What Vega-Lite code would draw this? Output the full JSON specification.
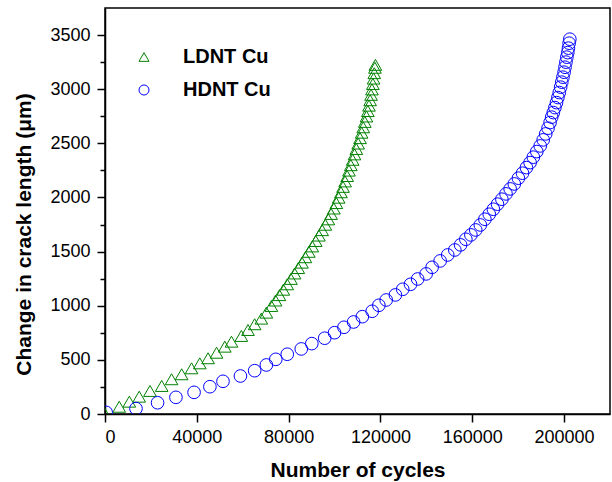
{
  "$schema": "https://vega.github.io/schema/vega-lite/v6.json",
  "width": 505,
  "height": 406,
  "autosize": {"type": "none"},
  "padding": {"left": 105, "top": 8, "right": 2, "bottom": 68},
  "background": "white",
  "config": {
    "view": {"stroke": "black", "strokeWidth": 1.5},
    "font": "Liberation Sans",
    "axis": {
      "labelFont": "Liberation Sans",
      "titleFont": "Liberation Sans",
      "labelFontSize": 18,
      "titleFontSize": 21,
      "titleFontWeight": "bold",
      "labelColor": "black",
      "titleColor": "black",
      "domainColor": "black",
      "tickColor": "black",
      "domainWidth": 1.5,
      "tickWidth": 1.5,
      "grid": false
    }
  },
  "data": {
    "values": [
      {"series": "LDNT Cu", "cycles": 0, "crack": 0},
      {"series": "LDNT Cu", "cycles": 6200, "crack": 67},
      {"series": "LDNT Cu", "cycles": 10600, "crack": 114},
      {"series": "LDNT Cu", "cycles": 14900, "crack": 160},
      {"series": "LDNT Cu", "cycles": 19600, "crack": 213},
      {"series": "LDNT Cu", "cycles": 24700, "crack": 259},
      {"series": "LDNT Cu", "cycles": 29000, "crack": 321},
      {"series": "LDNT Cu", "cycles": 33400, "crack": 367},
      {"series": "LDNT Cu", "cycles": 37700, "crack": 422},
      {"series": "LDNT Cu", "cycles": 41300, "crack": 468},
      {"series": "LDNT Cu", "cycles": 44900, "crack": 515},
      {"series": "LDNT Cu", "cycles": 48600, "crack": 566},
      {"series": "LDNT Cu", "cycles": 52200, "crack": 622},
      {"series": "LDNT Cu", "cycles": 55100, "crack": 668},
      {"series": "LDNT Cu", "cycles": 59400, "crack": 721},
      {"series": "LDNT Cu", "cycles": 62300, "crack": 776},
      {"series": "LDNT Cu", "cycles": 65200, "crack": 829},
      {"series": "LDNT Cu", "cycles": 68100, "crack": 881},
      {"series": "LDNT Cu", "cycles": 70300, "crack": 936},
      {"series": "LDNT Cu", "cycles": 72500, "crack": 998},
      {"series": "LDNT Cu", "cycles": 74300, "crack": 1048},
      {"series": "LDNT Cu", "cycles": 76000, "crack": 1098},
      {"series": "LDNT Cu", "cycles": 77700, "crack": 1148},
      {"series": "LDNT Cu", "cycles": 79400, "crack": 1198},
      {"series": "LDNT Cu", "cycles": 81000, "crack": 1248},
      {"series": "LDNT Cu", "cycles": 82600, "crack": 1298},
      {"series": "LDNT Cu", "cycles": 84200, "crack": 1348},
      {"series": "LDNT Cu", "cycles": 85800, "crack": 1398},
      {"series": "LDNT Cu", "cycles": 87300, "crack": 1448},
      {"series": "LDNT Cu", "cycles": 88800, "crack": 1498},
      {"series": "LDNT Cu", "cycles": 90300, "crack": 1548},
      {"series": "LDNT Cu", "cycles": 91800, "crack": 1598},
      {"series": "LDNT Cu", "cycles": 93200, "crack": 1648},
      {"series": "LDNT Cu", "cycles": 94600, "crack": 1698},
      {"series": "LDNT Cu", "cycles": 96000, "crack": 1748},
      {"series": "LDNT Cu", "cycles": 97300, "crack": 1798},
      {"series": "LDNT Cu", "cycles": 98500, "crack": 1848},
      {"series": "LDNT Cu", "cycles": 99700, "crack": 1898},
      {"series": "LDNT Cu", "cycles": 100800, "crack": 1948},
      {"series": "LDNT Cu", "cycles": 101800, "crack": 1998},
      {"series": "LDNT Cu", "cycles": 102800, "crack": 2048},
      {"series": "LDNT Cu", "cycles": 103700, "crack": 2098},
      {"series": "LDNT Cu", "cycles": 104600, "crack": 2148},
      {"series": "LDNT Cu", "cycles": 105500, "crack": 2198},
      {"series": "LDNT Cu", "cycles": 106300, "crack": 2248},
      {"series": "LDNT Cu", "cycles": 107100, "crack": 2298},
      {"series": "LDNT Cu", "cycles": 107900, "crack": 2348},
      {"series": "LDNT Cu", "cycles": 108700, "crack": 2398},
      {"series": "LDNT Cu", "cycles": 109500, "crack": 2448},
      {"series": "LDNT Cu", "cycles": 110300, "crack": 2498},
      {"series": "LDNT Cu", "cycles": 111100, "crack": 2548},
      {"series": "LDNT Cu", "cycles": 111800, "crack": 2598},
      {"series": "LDNT Cu", "cycles": 112500, "crack": 2648},
      {"series": "LDNT Cu", "cycles": 113200, "crack": 2698},
      {"series": "LDNT Cu", "cycles": 113900, "crack": 2748},
      {"series": "LDNT Cu", "cycles": 114500, "crack": 2798},
      {"series": "LDNT Cu", "cycles": 115000, "crack": 2848},
      {"series": "LDNT Cu", "cycles": 115500, "crack": 2898},
      {"series": "LDNT Cu", "cycles": 115900, "crack": 2948},
      {"series": "LDNT Cu", "cycles": 116300, "crack": 2998},
      {"series": "LDNT Cu", "cycles": 116700, "crack": 3048},
      {"series": "LDNT Cu", "cycles": 117000, "crack": 3098},
      {"series": "LDNT Cu", "cycles": 117300, "crack": 3148},
      {"series": "LDNT Cu", "cycles": 117600, "crack": 3198},
      {"series": "LDNT Cu", "cycles": 117800, "crack": 3225},
      {"series": "HDNT Cu", "cycles": 500, "crack": 15},
      {"series": "HDNT Cu", "cycles": 13500, "crack": 50},
      {"series": "HDNT Cu", "cycles": 22900, "crack": 104},
      {"series": "HDNT Cu", "cycles": 30900, "crack": 154},
      {"series": "HDNT Cu", "cycles": 38800, "crack": 200},
      {"series": "HDNT Cu", "cycles": 45700, "crack": 252},
      {"series": "HDNT Cu", "cycles": 51400, "crack": 302},
      {"series": "HDNT Cu", "cycles": 59000, "crack": 351},
      {"series": "HDNT Cu", "cycles": 65200, "crack": 400},
      {"series": "HDNT Cu", "cycles": 70300, "crack": 453},
      {"series": "HDNT Cu", "cycles": 74400, "crack": 505},
      {"series": "HDNT Cu", "cycles": 79400, "crack": 552},
      {"series": "HDNT Cu", "cycles": 85500, "crack": 601},
      {"series": "HDNT Cu", "cycles": 90100, "crack": 650},
      {"series": "HDNT Cu", "cycles": 95700, "crack": 700},
      {"series": "HDNT Cu", "cycles": 100000, "crack": 751},
      {"series": "HDNT Cu", "cycles": 104100, "crack": 801},
      {"series": "HDNT Cu", "cycles": 108300, "crack": 850},
      {"series": "HDNT Cu", "cycles": 112100, "crack": 899},
      {"series": "HDNT Cu", "cycles": 116400, "crack": 949},
      {"series": "HDNT Cu", "cycles": 119300, "crack": 1004},
      {"series": "HDNT Cu", "cycles": 122500, "crack": 1053},
      {"series": "HDNT Cu", "cycles": 126500, "crack": 1100},
      {"series": "HDNT Cu", "cycles": 129700, "crack": 1152},
      {"series": "HDNT Cu", "cycles": 133100, "crack": 1198},
      {"series": "HDNT Cu", "cycles": 136200, "crack": 1247},
      {"series": "HDNT Cu", "cycles": 139900, "crack": 1294},
      {"series": "HDNT Cu", "cycles": 142500, "crack": 1355},
      {"series": "HDNT Cu", "cycles": 146000, "crack": 1414},
      {"series": "HDNT Cu", "cycles": 149300, "crack": 1469},
      {"series": "HDNT Cu", "cycles": 152400, "crack": 1515},
      {"series": "HDNT Cu", "cycles": 154900, "crack": 1562},
      {"series": "HDNT Cu", "cycles": 157200, "crack": 1614},
      {"series": "HDNT Cu", "cycles": 159400, "crack": 1654},
      {"series": "HDNT Cu", "cycles": 161500, "crack": 1700},
      {"series": "HDNT Cu", "cycles": 163500, "crack": 1746},
      {"series": "HDNT Cu", "cycles": 165500, "crack": 1799},
      {"series": "HDNT Cu", "cycles": 167400, "crack": 1845},
      {"series": "HDNT Cu", "cycles": 169200, "crack": 1891},
      {"series": "HDNT Cu", "cycles": 171000, "crack": 1938},
      {"series": "HDNT Cu", "cycles": 172900, "crack": 1984},
      {"series": "HDNT Cu", "cycles": 174700, "crack": 2033},
      {"series": "HDNT Cu", "cycles": 176500, "crack": 2079},
      {"series": "HDNT Cu", "cycles": 178300, "crack": 2125},
      {"series": "HDNT Cu", "cycles": 180100, "crack": 2178},
      {"series": "HDNT Cu", "cycles": 181900, "crack": 2224},
      {"series": "HDNT Cu", "cycles": 183600, "crack": 2276},
      {"series": "HDNT Cu", "cycles": 185200, "crack": 2322},
      {"series": "HDNT Cu", "cycles": 186600, "crack": 2372},
      {"series": "HDNT Cu", "cycles": 188100, "crack": 2424},
      {"series": "HDNT Cu", "cycles": 189600, "crack": 2476},
      {"series": "HDNT Cu", "cycles": 190900, "crack": 2532},
      {"series": "HDNT Cu", "cycles": 192000, "crack": 2587},
      {"series": "HDNT Cu", "cycles": 193000, "crack": 2640},
      {"series": "HDNT Cu", "cycles": 193900, "crack": 2692},
      {"series": "HDNT Cu", "cycles": 194600, "crack": 2742},
      {"series": "HDNT Cu", "cycles": 195300, "crack": 2784},
      {"series": "HDNT Cu", "cycles": 196000, "crack": 2830},
      {"series": "HDNT Cu", "cycles": 196700, "crack": 2876},
      {"series": "HDNT Cu", "cycles": 197300, "crack": 2923},
      {"series": "HDNT Cu", "cycles": 197900, "crack": 2969},
      {"series": "HDNT Cu", "cycles": 198500, "crack": 3019},
      {"series": "HDNT Cu", "cycles": 199000, "crack": 3065},
      {"series": "HDNT Cu", "cycles": 199500, "crack": 3111},
      {"series": "HDNT Cu", "cycles": 200000, "crack": 3157},
      {"series": "HDNT Cu", "cycles": 200400, "crack": 3203},
      {"series": "HDNT Cu", "cycles": 200800, "crack": 3250},
      {"series": "HDNT Cu", "cycles": 201200, "crack": 3296},
      {"series": "HDNT Cu", "cycles": 201600, "crack": 3338},
      {"series": "HDNT Cu", "cycles": 201900, "crack": 3379},
      {"series": "HDNT Cu", "cycles": 202200, "crack": 3425},
      {"series": "HDNT Cu", "cycles": 202500, "crack": 3462}
    ]
  },
  "resolve": {"axis": {"y": "independent"}},
  "layer": [
    {
      "mark": {"type": "point", "filled": false, "strokeWidth": 1, "size": 160, "opacity": 1, "clip": true},
      "encoding": {
        "x": {
          "field": "cycles", "type": "quantitative",
          "scale": {"domain": [0, 220000], "nice": false, "zero": false},
          "axis": {"values": [0, 40000, 80000, 120000, 160000, 200000], "format": "d", "title": "Number of cycles", "tickSize": 8, "labelPadding": 6, "titlePadding": 13}
        },
        "y": {
          "field": "crack", "type": "quantitative",
          "scale": {"domain": [0, 3750], "nice": false, "zero": false},
          "axis": {"values": [0, 500, 1000, 1500, 2000, 2500, 3000, 3500], "format": "d", "title": "Change in crack length (μm)", "tickSize": 8, "labelPadding": 7, "titlePadding": 15, "titleY": 226}
        },
        "color": {
          "field": "series", "type": "nominal",
          "scale": {"domain": ["LDNT Cu", "HDNT Cu"], "range": ["#008000", "#0000ff"]},
          "legend": {
            "orient": "none", "legendX": 29, "legendY": 39, "title": null,
            "symbolSize": 100, "symbolStrokeWidth": 1, "symbolFillColor": "transparent", "symbolOpacity": 1,
            "labelFontSize": 20, "labelFontWeight": "bold", "labelFont": "Liberation Sans",
            "labelOffset": 29, "rowPadding": 13, "padding": 0,
            "encode": {"labels": {"update": {"fill": {"signal": "datum.label == 'LDNT Cu' ? '#008000' : '#0000ff'"}}}}
          }
        },
        "shape": {
          "field": "series", "type": "nominal",
          "scale": {"domain": ["LDNT Cu", "HDNT Cu"], "range": ["triangle-up", "circle"]},
          "legend": null
        }
      }
    },
    {
      "mark": {"type": "point", "opacity": 0},
      "encoding": {
        "x": {"field": "cycles", "type": "quantitative"},
        "y": {
          "field": "crack", "type": "quantitative",
          "axis": {"orient": "left", "values": [250, 750, 1250, 1750, 2250, 2750, 3250], "labels": false, "domain": false, "tickSize": 5, "title": null}
        }
      }
    }
  ]
}
